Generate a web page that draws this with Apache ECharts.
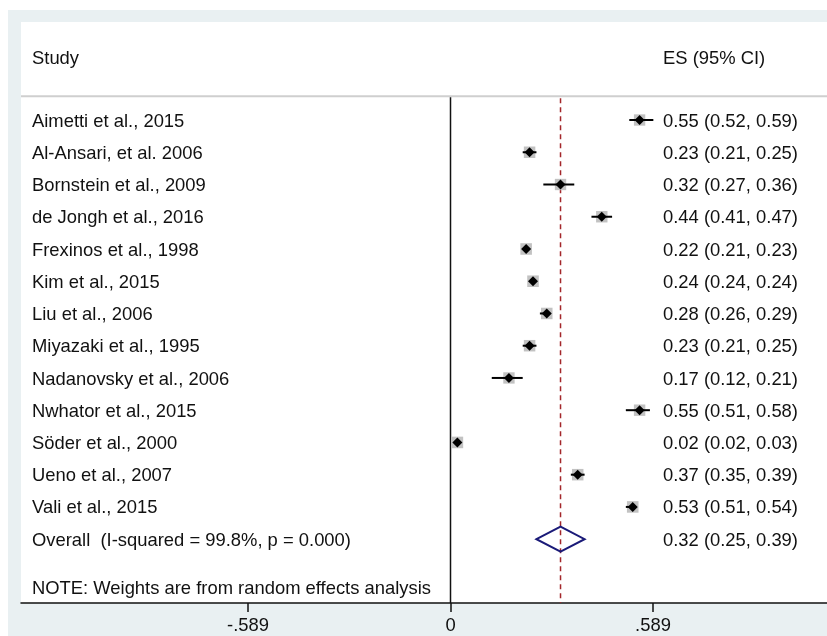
<!DOCTYPE html>
<html>
<head>
<meta charset="utf-8">
<script src="https://cdn.jsdelivr.net/npm/echarts@6/dist/echarts.min.js"></script>
<style>
html,body{margin:0;padding:0;background:#fff;}
#chart{width:827px;height:636px;}
</style>
</head>
<body>
<div id="chart"></div>
<script>
// ---- data ----
var studies = [
  "Aimetti et al., 2015",
  "Al-Ansari, et al. 2006",
  "Bornstein et al., 2009",
  "de Jongh et al., 2016",
  "Frexinos et al., 1998",
  "Kim et al., 2015",
  "Liu et al., 2006",
  "Miyazaki et al., 1995",
  "Nadanovsky et al., 2006",
  "Nwhator et al., 2015",
  "Söder et al., 2000",
  "Ueno et al., 2007",
  "Vali et al., 2015"
];
var es = [0.55, 0.23, 0.32, 0.44, 0.22, 0.24, 0.28, 0.23, 0.17, 0.55, 0.02, 0.37, 0.53];
var lo = [0.52, 0.21, 0.27, 0.41, 0.21, 0.24, 0.26, 0.21, 0.12, 0.51, 0.02, 0.35, 0.51];
var hi = [0.59, 0.25, 0.36, 0.47, 0.23, 0.24, 0.29, 0.25, 0.21, 0.58, 0.03, 0.39, 0.54];
var weights = [7.5, 7.7, 7.5, 7.6, 7.8, 7.8, 7.7, 7.7, 7.5, 7.6, 7.8, 7.7, 7.8];
var overallLabel = "Overall  (I-squared = 99.8%, p = 0.000)";
var overallES = 0.32, overallLo = 0.25, overallHi = 0.39;
var noteText = "NOTE: Weights are from random effects analysis";
var headerLeft = "Study", headerRight = "ES (95% CI)";
var tickValues = [-0.589, 0, 0.589];
var tickLabels = ["-.589", "0", ".589"];

// ---- layout helpers ----
var FONT = '"Liberation Sans", Arial, Helvetica, sans-serif';
var FS = 18.4;
var TXT = '#111111';
var ROW_OVERALL = studies.length;       // row index of overall
var ROW_HEADER = -1.95, ROW_RULE = -0.74, ROW_NOTE = 14.5;

function fmt(v){ return v.toFixed(2); }

var studyData = studies.map(function(s, i){ return [es[i], lo[i], hi[i], i, weights[i]]; });

var textRows = [];
textRows.push({ row: ROW_HEADER, left: headerLeft, right: headerRight });
studies.forEach(function(s, i){
  textRows.push({ row: i, left: s, right: fmt(es[i]) + " (" + fmt(lo[i]) + ", " + fmt(hi[i]) + ")" });
});
textRows.push({ row: ROW_OVERALL, left: overallLabel, right: fmt(overallES) + " (" + fmt(overallLo) + ", " + fmt(overallHi) + ")" });
textRows.push({ row: ROW_NOTE, left: noteText, right: "" });

var chart = echarts.init(document.getElementById('chart'), null, { renderer: 'canvas' });

var option = {
  backgroundColor: '#ffffff',
  animation: false,
  graphic: [
    { type: 'rect', z: -10, shape: { x: 8, y: 10, width: 819, height: 626 }, style: { fill: '#e9f0f2' } }
  ],
  grid: {
    left: 21, right: 0, top: 22, bottom: 33,
    show: true, backgroundColor: '#ffffff', borderWidth: 0
  },
  xAxis: {
    type: 'value',
    min: -1.2493, max: 1.0951,
    axisLine: { show: true, onZero: false, lineStyle: { color: '#111', width: 1.5 } },
    axisTick: { show: true, customValues: tickValues, length: 9, inside: false, lineStyle: { color: '#111', width: 1.5 } },
    axisLabel: {
      show: true, customValues: tickValues, margin: 14,
      fontFamily: FONT, fontSize: FS, color: TXT,
      formatter: function(v){
        for (var k = 0; k < tickValues.length; k++) if (Math.abs(v - tickValues[k]) < 1e-6) return tickLabels[k];
        return '';
      }
    },
    splitLine: { show: false }
  },
  yAxis: {
    type: 'value', inverse: true,
    min: -3.04, max: 14.98,
    show: false,
    splitLine: { show: false }
  },
  series: [
    // structure lines: header rule, zero line, overall dashed line
    {
      type: 'custom',
      data: [[0]],
      z: 1,
      renderItem: function(params, api){
        var cs = params.coordSys;
        var ruleY = api.coord([0, ROW_RULE])[1];
        var bottom = cs.y + cs.height;
        var x0 = api.coord([0, 0])[0];
        var xo = api.coord([overallES, 0])[0];
        return {
          type: 'group',
          children: [
            { type: 'line', shape: { x1: cs.x, y1: ruleY, x2: cs.x + cs.width, y2: ruleY }, style: { stroke: '#cfcfcf', lineWidth: 2 } },
            { type: 'line', shape: { x1: x0, y1: ruleY + 1, x2: x0, y2: bottom }, style: { stroke: '#111', lineWidth: 1.5 } },
            { type: 'line', shape: { x1: xo, y1: ruleY + 2, x2: xo, y2: bottom }, style: { stroke: '#a3262a', lineWidth: 1.5, lineDash: [5, 4] } }
          ]
        };
      }
    },
    // studies: weight box, CI line, point marker
    {
      type: 'custom',
      data: studyData,
      z: 3,
      renderItem: function(params, api){
        var p = api.coord([api.value(0), api.value(3)]);
        var l = api.coord([api.value(1), api.value(3)]);
        var h = api.coord([api.value(2), api.value(3)]);
        var side = 11.5 * Math.sqrt(api.value(4) / 7.7);
        var m = 5;
        return {
          type: 'group',
          children: [
            { type: 'rect', shape: { x: p[0] - side / 2, y: p[1] - side / 2, width: side, height: side }, style: { fill: '#c2c2c2' } },
            { type: 'line', shape: { x1: l[0], y1: l[1], x2: h[0], y2: h[1] }, style: { stroke: '#000', lineWidth: 2 } },
            { type: 'polygon', shape: { points: [[p[0] - m, p[1]], [p[0], p[1] - m], [p[0] + m, p[1]], [p[0], p[1] + m]] }, style: { fill: '#000' } }
          ]
        };
      }
    },
    // overall diamond
    {
      type: 'custom',
      data: [[overallES, overallLo, overallHi, ROW_OVERALL]],
      z: 3,
      renderItem: function(params, api){
        var p = api.coord([api.value(0), api.value(3)]);
        var l = api.coord([api.value(1), api.value(3)]);
        var h = api.coord([api.value(2), api.value(3)]);
        var hh = 12.5;
        return {
          type: 'polygon',
          shape: { points: [[l[0], p[1]], [p[0], p[1] - hh], [h[0], p[1]], [p[0], p[1] + hh]] },
          style: { fill: 'none', stroke: '#1a1a78', lineWidth: 2 }
        };
      }
    },
    // text columns
    {
      type: 'custom',
      data: textRows.map(function(t, i){ return [0, t.row, i]; }),
      z: 4,
      renderItem: function(params, api){
        var cs = params.coordSys;
        var t = textRows[api.value(2)];
        var y = api.coord([0, api.value(1)])[1] + 1.5;
        return {
          type: 'group',
          children: [
            { type: 'text', x: cs.x + 11, y: y, style: { text: t.left, fill: TXT, font: FS + 'px ' + FONT, textAlign: 'left', textVerticalAlign: 'middle' } },
            { type: 'text', x: cs.x + 642, y: y, style: { text: t.right, fill: TXT, font: FS + 'px ' + FONT, textAlign: 'left', textVerticalAlign: 'middle' } }
          ]
        };
      }
    }
  ]
};
chart.setOption(option);
</script>
</body>
</html>
